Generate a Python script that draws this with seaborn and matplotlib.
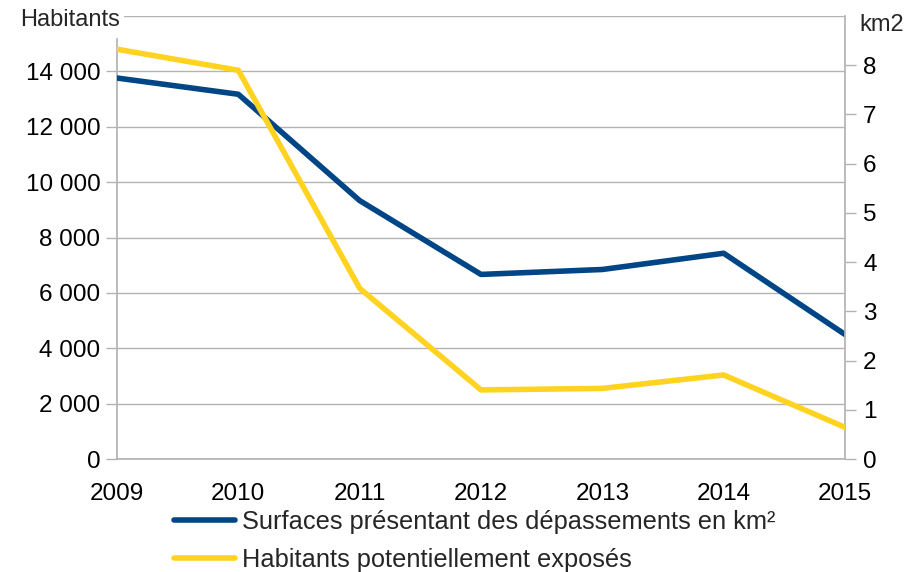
import matplotlib
matplotlib.use("Agg")
import matplotlib.pyplot as plt
import matplotlib.ticker as mticker
import seaborn as sns
import pandas as pd

# values
years = [2009, 2010, 2011, 2012, 2013, 2014, 2015]
surfaces_km2 = [7.74, 7.41, 5.25, 3.75, 3.85, 4.18, 2.53]
habitants = [14800, 14040, 6165, 2495, 2550, 3035, 1145]

label_surf = "Surfaces présentant des dépassements en km²"
label_hab = "Habitants potentiellement exposés"

BLUE = "#004586"
YELLOW = "#ffd320"
GRID = "#b3b3b3"

sns.set_theme(style="white")
plt.rcParams['font.family'] = ['Liberation Sans', 'DejaVu Sans']

df = pd.DataFrame({"year": years, "surf": surfaces_km2, "hab": habitants})


def fmt_hab(v, pos):
    if v >= 16000:
        return ""
    return f"{int(v):,}".replace(",", " ")


fig = plt.figure(figsize=(9.24, 5.72), dpi=100)
ax = fig.add_axes([117 / 924, 1 - 459 / 572, (845 - 117) / 924, (459 - 16) / 572])
ax2 = ax.twinx()   # right axis, km2
ax3 = ax.twinx()   # yellow on top, same scale as left

# left axis / grid
ax.set_xlim(2009, 2015)
ax.set_ylim(0, 16000)
ax.set_yticks(range(0, 16001, 2000))
ax.yaxis.set_major_formatter(mticker.FuncFormatter(fmt_hab))
ax.grid(axis="y", color=GRID, linewidth=1)
ax.set_xticks(years)
ax.tick_params(axis="both", labelsize=17.5, colors="black")
ax.tick_params(axis="y", length=8, color=GRID, width=1, pad=4)
ax.tick_params(axis="x", length=8, color=GRID, width=1, pad=9)
for s in ["top", "right"]:
    ax.spines[s].set_visible(False)
ax.spines["left"].set_color(GRID)
ax.spines["left"].set_bounds(0, 15170)
ax.spines["bottom"].set_color(GRID)

# blue series on right axis
sns.lineplot(data=df, x="year", y="surf", ax=ax2, color=BLUE, linewidth=4,
             label=label_surf, legend=False)
ax2.set_ylim(0, 9)
ax2.set_yticks(range(0, 9))
ax2.tick_params(axis="y", labelsize=17.5, colors="black", length=8, color=GRID, width=1, pad=5)
ax2.set_ylabel("")
for s in ["top", "left", "bottom"]:
    ax2.spines[s].set_visible(False)
ax2.spines["right"].set_color(GRID)

# yellow series on left scale, drawn on top
sns.lineplot(data=df, x="year", y="hab", ax=ax3, color=YELLOW, linewidth=4,
             label=label_hab, legend=False)
ax3.set_ylim(ax.get_ylim())
ax3.set_xlim(ax.get_xlim())
ax3.set_yticks([])
ax3.set_ylabel("")
ax3.set_xlabel("")
for s in ax3.spines.values():
    s.set_visible(False)
ax.set_xlabel("")
ax.set_ylabel("")
ax2.set_xlabel("")

fig.text(20 / 924, 1 - 20 / 572, "Habitants", fontsize=17, va="center", ha="left",
         bbox=dict(facecolor="white", edgecolor="none", pad=3))
fig.text(859 / 924, 1 - 25 / 572, "km2", fontsize=17, va="center", ha="left")

handles = ax2.get_lines()[:1] + ax3.get_lines()[:1]
fig.legend(handles, [label_surf, label_hab], loc="upper left",
           bbox_to_anchor=(161 / 924, 1 - 497 / 572), frameon=False, fontsize=18.3,
           handlelength=2.4, handletextpad=0.3, labelspacing=0.55, borderpad=0)

fig.savefig("out.png", dpi=100)
